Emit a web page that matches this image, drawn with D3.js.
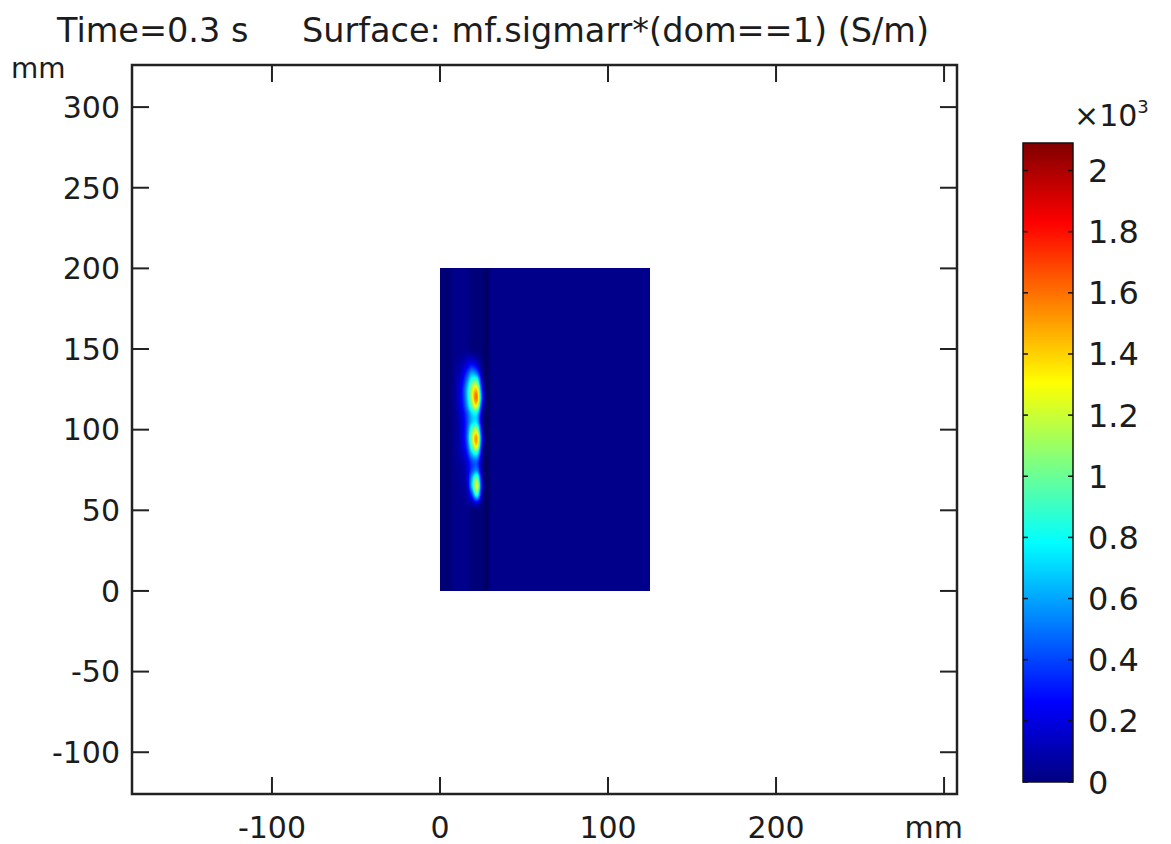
<!DOCTYPE html>
<html>
<head>
<meta charset="utf-8">
<script src="https://cdn.jsdelivr.net/npm/d3@7"></script>
<style>
  html, body { margin: 0; padding: 0; background: #fff; }
  svg text { font-family: "DejaVu Sans", sans-serif; fill: #1c1c1c; }
</style>
</head>
<body>
<svg id="chart" width="1171" height="844"></svg>
<script>
// ---- axis limits and ticks (mm) ----
const xLimits = [-183.3, 307.7];
const yLimits = [-125.9, 326.1];
const xTicks = [-100, 0, 100, 200, 300];
const xTickLabels = ["-100", "0", "100", "200", "mm"];
const yTicks = [-100, -50, 0, 50, 100, 150, 200, 250, 300];
const yTickLabels = ["-100", "-50", "0", "50", "100", "150", "200", "250", "300"];

// ---- colour range (×10^3 S/m) ----
const colorRange = [0, 2.09];
const colorTicks = [0, 0.2, 0.4, 0.6, 0.8, 1, 1.2, 1.4, 1.6, 1.8, 2];
const colorTickLabels = ["0", "0.2", "0.4", "0.6", "0.8", "1", "1.2", "1.4", "1.6", "1.8", "2"];

// ---- domain 1 extent (mm) ----
const domainX = [0, 125];
const domainY = [0, 200];
const baseSigma = 0.02;

// ---- sampled conductivity near the hot spots (×10^3 S/m) ----
const gridX = [10, 13, 16, 19, 22, 25, 28];
const gridY = [145, 140, 135, 130, 125, 120, 115, 110, 105, 100, 95, 90, 85, 80, 75, 70, 65, 60, 55];
const sigmaRows = [
  [0.03, 0.05, 0.09, 0.12, 0.08, 0.03, 0.02],
  [0.05, 0.10, 0.20, 0.30, 0.20, 0.05, 0.02],
  [0.07, 0.16, 0.36, 0.60, 0.48, 0.09, 0.02],
  [0.09, 0.22, 0.52, 0.92, 0.95, 0.18, 0.02],
  [0.10, 0.27, 0.64, 1.18, 1.38, 0.32, 0.03],
  [0.10, 0.27, 0.64, 1.22, 1.58, 0.40, 0.03],
  [0.09, 0.24, 0.56, 1.04, 1.30, 0.27, 0.03],
  [0.07, 0.19, 0.42, 0.72, 0.75, 0.13, 0.02],
  [0.06, 0.17, 0.38, 0.68, 0.70, 0.11, 0.02],
  [0.06, 0.17, 0.42, 0.96, 1.12, 0.20, 0.02],
  [0.06, 0.17, 0.45, 1.12, 1.48, 0.30, 0.02],
  [0.06, 0.15, 0.38, 0.98, 1.32, 0.23, 0.02],
  [0.05, 0.12, 0.28, 0.66, 0.78, 0.13, 0.02],
  [0.04, 0.08, 0.18, 0.40, 0.44, 0.08, 0.02],
  [0.03, 0.06, 0.15, 0.40, 0.52, 0.08, 0.02],
  [0.03, 0.06, 0.15, 0.62, 1.00, 0.16, 0.02],
  [0.02, 0.05, 0.12, 0.68, 1.24, 0.23, 0.02],
  [0.02, 0.04, 0.09, 0.40, 0.90, 0.13, 0.02],
  [0.02, 0.02, 0.05, 0.14, 0.25, 0.05, 0.02]
];

// darker vertical bands in the mesh shading: [x0, x1, shade]
const shadeBands = [[0, 7, 0.16], [17, 30, 0.12], [25.5, 29.5, 0.28]];

// ---- layout ----
const frame = { left: 132, right: 957, top: 65, bottom: 794 };
const cbar = { left: 1023, right: 1073, top: 143, bottom: 782 };
const fontSize = 30;
const titleSize = 33.5;
const cbarFont = 32;

const svg = d3.select("#chart");
const x = d3.scaleLinear().domain(xLimits).range([frame.left, frame.right]);
const y = d3.scaleLinear().domain(yLimits).range([frame.bottom, frame.top]);

// jet colour map
const jetStops = [0, 0.125, 0.375, 0.625, 0.875, 1];
const jetColors = ["#000080", "#0000ff", "#00ffff", "#ffff00", "#ff0000", "#800000"];
const jet = d3.scaleLinear().domain(jetStops).range(jetColors).interpolate(d3.interpolateRgb).clamp(true);
const color = v => jet((v - colorRange[0]) / (colorRange[1] - colorRange[0]));

// ---- surface: bicubic (Catmull-Rom) resampling of the samples onto pixels ----
const dxCell = 3, dyCell = 5;
const padN = 2;
const gxs = d3.range(-padN, gridX.length + padN).map(i => gridX[0] + i * dxCell);
const rowsAsc = gridY.map((yy, i) => ({ yy, row: sigmaRows[i] })).sort((a, b) => a.yy - b.yy);
const gy0 = rowsAsc[0].yy - padN * dyCell;
const nGy = rowsAsc.length + 2 * padN;
const padRow = gxs.map(() => baseSigma);
const gvals = [
  ...d3.range(padN).map(() => padRow),
  ...rowsAsc.map(r => [...d3.range(padN).map(() => baseSigma), ...r.row, ...d3.range(padN).map(() => baseSigma)]),
  ...d3.range(padN).map(() => padRow)
];

function cr(p0, p1, p2, p3, t) {
  return p1 + 0.5 * t * (p2 - p0 + t * (2 * p0 - 5 * p1 + 4 * p2 - p3 + t * (3 * (p1 - p2) + p3 - p0)));
}
function sample(mx, my) {
  const fx = (mx - gxs[0]) / dxCell, fy = (my - gy0) / dyCell;
  const i = Math.floor(fx), j = Math.floor(fy);
  if (i < 1 || j < 1 || i > gxs.length - 3 || j > nGy - 3) return baseSigma;
  const tx = fx - i, ty = fy - j;
  const rowsV = [-1, 0, 1, 2].map(dj => {
    const g = gvals[j + dj];
    return cr(g[i - 1], g[i], g[i + 1], g[i + 2], tx);
  });
  return Math.max(baseSigma * 0.5, cr(rowsV[0], rowsV[1], rowsV[2], rowsV[3], ty));
}

const px0 = Math.round(x(domainX[0])), px1 = Math.round(x(domainX[1]));
const py0 = Math.round(y(domainY[1])), py1 = Math.round(y(domainY[0]));
const W = px1 - px0, H = py1 - py0;
const canvas = document.createElement("canvas");
canvas.width = W; canvas.height = H;
const ctx = canvas.getContext("2d");
const img = ctx.createImageData(W, H);
for (let r = 0; r < H; r++) {
  const my = y.invert(py0 + r + 0.5);
  for (let c = 0; c < W; c++) {
    const mx = x.invert(px0 + c + 0.5);
    const v = sample(mx, my);
    const col = d3.rgb(color(v));
    let shade = 0;
    shadeBands.forEach(([a, b, s]) => {
      const edge = Math.min(mx - a, b - mx);
      if (edge > -1) shade = Math.max(shade, s * Math.min(1, (edge + 1) / 2.5));
    });
    shade *= Math.max(0, 1 - Math.max(0, v - baseSigma) * 4);
    const k = (r * W + c) * 4;
    img.data[k] = col.r * (1 - shade);
    img.data[k + 1] = col.g * (1 - shade);
    img.data[k + 2] = col.b * (1 - shade);
    img.data[k + 3] = 255;
  }
}
ctx.putImageData(img, 0, 0);

svg.append("image")
  .attr("x", px0).attr("y", py0).attr("width", W).attr("height", H)
  .attr("href", canvas.toDataURL());

// ---- frame and inward ticks on all four sides ----
const tickLen = 17;
const axisG = svg.append("g").attr("stroke", "#222").attr("fill", "none");
axisG.append("rect")
  .attr("x", frame.left).attr("y", frame.top)
  .attr("width", frame.right - frame.left).attr("height", frame.bottom - frame.top)
  .attr("stroke-width", 2.5);
xTicks.forEach(t => {
  axisG.append("line").attr("x1", x(t)).attr("x2", x(t))
    .attr("y1", frame.bottom).attr("y2", frame.bottom - tickLen).attr("stroke-width", 2);
  axisG.append("line").attr("x1", x(t)).attr("x2", x(t))
    .attr("y1", frame.top).attr("y2", frame.top + tickLen).attr("stroke-width", 2);
});
yTicks.forEach(t => {
  axisG.append("line").attr("x1", frame.left).attr("x2", frame.left + tickLen)
    .attr("y1", y(t)).attr("y2", y(t)).attr("stroke-width", 2);
  axisG.append("line").attr("x1", frame.right).attr("x2", frame.right - tickLen)
    .attr("y1", y(t)).attr("y2", y(t)).attr("stroke-width", 2);
});

// tick labels
svg.append("g").selectAll("text").data(xTicks).join("text")
  .attr("x", (d, i) => i === xTicks.length - 1 ? frame.right + 6 : x(d))
  .attr("y", 838)
  .attr("text-anchor", (d, i) => i === xTicks.length - 1 ? "end" : "middle")
  .attr("font-size", fontSize)
  .text((d, i) => xTickLabels[i]);

svg.append("g").selectAll("text").data(yTicks).join("text")
  .attr("x", frame.left - 12)
  .attr("y", d => y(d))
  .attr("dy", "0.36em")
  .attr("text-anchor", "end")
  .attr("font-size", fontSize)
  .text((d, i) => yTickLabels[i]);

svg.append("text").attr("x", 11).attr("y", 78).attr("font-size", fontSize - 2).text("mm");

// title
svg.append("text").attr("x", 57).attr("y", 42).attr("font-size", titleSize).text("Time=0.3 s");
svg.append("text").attr("x", 302).attr("y", 42).attr("font-size", titleSize).text("Surface: mf.sigmarr*(dom==1) (S/m)");

// ---- colour bar ----
const c = d3.scaleLinear().domain(colorRange).range([cbar.bottom, cbar.top]);
const defs = svg.append("defs");
const grad = defs.append("linearGradient").attr("id", "jetGrad")
  .attr("x1", 0).attr("x2", 0).attr("y1", 1).attr("y2", 0);
grad.selectAll("stop").data(jetStops).join("stop")
  .attr("offset", d => d).attr("stop-color", (d, i) => jetColors[i]);

svg.append("rect")
  .attr("x", cbar.left).attr("y", cbar.top)
  .attr("width", cbar.right - cbar.left).attr("height", cbar.bottom - cbar.top)
  .attr("fill", "url(#jetGrad)").attr("stroke", "#111").attr("stroke-width", 1.5);

const cbTicks = svg.append("g").attr("stroke", "#111").attr("stroke-width", 1.5);
colorTicks.forEach(t => {
  cbTicks.append("line").attr("x1", cbar.left).attr("x2", cbar.left + 5).attr("y1", c(t)).attr("y2", c(t));
  cbTicks.append("line").attr("x1", cbar.right - 5).attr("x2", cbar.right).attr("y1", c(t)).attr("y2", c(t));
});
svg.append("g").selectAll("text").data(colorTicks).join("text")
  .attr("x", cbar.right + 15)
  .attr("y", d => c(d))
  .attr("dy", "0.36em")
  .attr("font-size", cbarFont)
  .text((d, i) => colorTickLabels[i]);

const mult = svg.append("text").attr("x", cbar.right + 1).attr("y", 126).attr("font-size", fontSize);
mult.append("tspan").text("×10");
mult.append("tspan").attr("font-size", fontSize - 12).attr("dy", -13).text("3");
</script>
</body>
</html>
